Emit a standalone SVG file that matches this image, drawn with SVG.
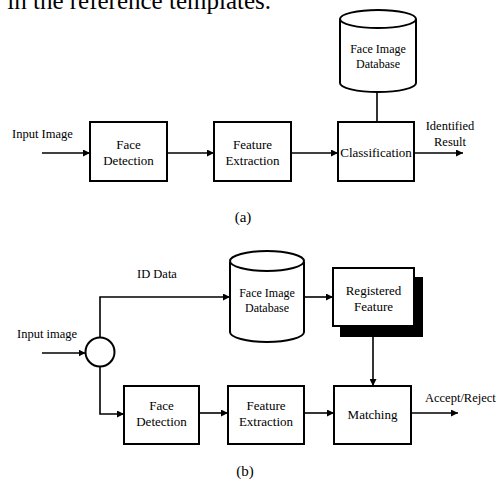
<svg xmlns="http://www.w3.org/2000/svg" width="497" height="479" viewBox="0 0 497 479">
<defs>
<style>
text{font-family:"Liberation Serif","Times New Roman",serif;fill:#000}
.t{font-size:13px;text-anchor:middle}
.l{font-size:12.5px}
.box{fill:#fff;stroke:#000;stroke-width:2}
.ln{fill:none;stroke:#000;stroke-width:1.6}
</style>
<marker id="ah" viewBox="0 0 10 10" refX="10" refY="5" markerWidth="7" markerHeight="7" markerUnits="userSpaceOnUse" orient="auto"><path d="M0,0 L10,5 L0,10 z" fill="#000"/></marker>
</defs>
<text x="271" y="9" style="font-size:25px;text-anchor:end">in the reference templates.</text>

<g id="a-input"><text class="l" x="12" y="138">Input Image</text></g>
<g id="a-facedet"><rect class="box" x="90" y="122" width="77" height="59"/><text class="t" x="128.5" y="149">Face</text><text class="t" x="128.5" y="165">Detection</text></g>
<g id="a-featext"><rect class="box" x="214" y="122" width="77" height="59"/><text class="t" x="252.5" y="149">Feature</text><text class="t" x="252.5" y="165">Extraction</text></g>
<g id="a-class"><rect class="box" x="338" y="122" width="76" height="59"/><text class="t" x="376" y="157">Classification</text></g>
<g id="a-db"><path class="box" d="M340,19 L340,83 A38,9 0 0 0 416,83 L416,19"/><ellipse class="box" cx="378" cy="19" rx="38" ry="9"/><text class="t" x="378" y="53" style="font-size:12px">Face Image</text><text class="t" x="378" y="68" style="font-size:12px">Database</text></g>
<g id="a-result"><text class="l" x="450" y="130" text-anchor="middle">Identified</text><text class="l" x="450" y="146" text-anchor="middle">Result</text></g>
<text x="243" y="222" style="font-size:15px;text-anchor:middle">(a)</text>

<g id="b-input"><text class="l" x="17" y="338">Input image</text></g>
<g id="b-split"><circle cx="100" cy="352" r="14.5" fill="#fff" stroke="#000" stroke-width="2"/></g>
<g id="b-iddata"><text class="l" x="137" y="278">ID Data</text></g>
<g id="b-db"><path class="box" d="M230,262 L230,332 A37,10 0 0 0 304,332 L304,262"/><ellipse class="box" cx="267" cy="261" rx="37" ry="10"/><text class="t" x="267" y="297" style="font-size:12px">Face Image</text><text class="t" x="267" y="312" style="font-size:12px">Database</text></g>
<g id="b-reg"><rect x="340" y="277" width="83" height="60" fill="#000"/><rect class="box" x="333" y="268" width="81" height="58"/><text class="t" x="373.5" y="295">Registered</text><text class="t" x="373.5" y="311">Feature</text></g>
<g id="b-facedet"><rect class="box" x="124" y="386" width="75" height="58"/><text class="t" x="161.5" y="410">Face</text><text class="t" x="161.5" y="426">Detection</text></g>
<g id="b-featext"><rect class="box" x="228" y="386" width="76" height="58"/><text class="t" x="266" y="410">Feature</text><text class="t" x="266" y="426">Extraction</text></g>
<g id="b-match"><rect class="box" x="334" y="386" width="77" height="58"/><text class="t" x="372.5" y="419">Matching</text></g>
<g id="b-accept"><text class="l" x="425" y="402">Accept/Reject</text></g>
<text x="245" y="476" style="font-size:15px;text-anchor:middle">(b)</text>

<g id="connectors">
<line class="ln" x1="42" y1="153" x2="90" y2="153" marker-end="url(#ah)"/>
<line class="ln" x1="167" y1="153" x2="214" y2="153" marker-end="url(#ah)"/>
<line class="ln" x1="291" y1="153" x2="338" y2="153" marker-end="url(#ah)"/>
<line class="ln" x1="414" y1="153" x2="463" y2="153" marker-end="url(#ah)"/>
<line class="ln" x1="377" y1="92" x2="377" y2="122"/>
<line class="ln" x1="42" y1="353" x2="85.5" y2="353" marker-end="url(#ah)"/>
<polyline class="ln" points="100,337.5 100,297 230,297" marker-end="url(#ah)"/>
<polyline class="ln" points="100,366.5 100,414 124,414" marker-end="url(#ah)"/>
<line class="ln" x1="199" y1="413" x2="228" y2="413" marker-end="url(#ah)"/>
<line class="ln" x1="304" y1="413" x2="334" y2="413" marker-end="url(#ah)"/>
<line class="ln" x1="411" y1="413" x2="458" y2="413" marker-end="url(#ah)"/>
<line class="ln" x1="304" y1="297" x2="333" y2="297" marker-end="url(#ah)"/>
<line class="ln" x1="373" y1="337" x2="373" y2="386" marker-end="url(#ah)"/>
</g>
</svg>
